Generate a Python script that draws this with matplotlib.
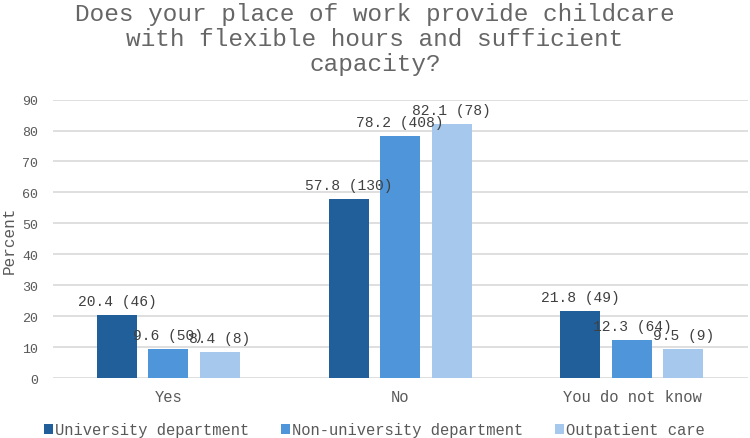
import matplotlib
matplotlib.use("Agg")
import matplotlib.pyplot as plt
import numpy as np

categories = ["Yes", "No", "You do not know"]
series_names = ["University department", "Non-university department", "Outpatient care"]
percent = [
    [20.4, 57.8, 21.8],
    [9.6, 78.2, 12.3],
    [8.4, 82.1, 9.5],
]
counts = [
    [46, 130, 49],
    [50, 408, 64],
    [8, 78, 9],
]
colors = ["#215f9a", "#4e95d9", "#a6c8ec"]
yticks = [0, 10, 20, 30, 40, 50, 60, 70, 80, 90]

plt.rcParams['font.family'] = ['Liberation Mono', 'DejaVu Sans Mono']
txt = "#595959"

fig = plt.figure(figsize=(7.5, 4.39), dpi=100)
ax = fig.add_axes([0.07, 0.136, 0.927, 0.635])

x = np.arange(len(categories))
width = 0.173
step = 0.222
for i, (name, vals, cnts, c) in enumerate(zip(series_names, percent, counts, colors)):
    pos = x + (i - 1) * step
    bars = ax.bar(pos, vals, width, color=c, label=name, zorder=3)
    for b, v, n in zip(bars, vals, cnts):
        ax.annotate(f"{v} ({n})", (b.get_x() + b.get_width() / 2, v),
                    xytext=(0, 5), textcoords="offset points",
                    ha="center", va="bottom", fontsize=10.5, color="#404040", zorder=4)

ax.set_xlim(-0.5, 2.5)
ax.set_ylim(0, 90)
ax.set_yticks(yticks)
ax.set_xticks(x)
ax.set_xticklabels(categories, fontsize=11.2, color=txt)
ax.tick_params(axis='y', labelsize=9.6, colors=txt, length=0, pad=10.5)
ax.tick_params(axis='x', length=0, pad=8)
ax.grid(axis='y', color="#d9d9d9", linewidth=1.2, zorder=0)
for s in ax.spines.values():
    s.set_visible(False)
ax.set_ylabel("Percent", fontsize=11.5, color=txt)
ax.yaxis.set_label_coords(-0.051, 0.5)

fig.suptitle("Does your place of work provide childcare\nwith flexible hours and sufficient\ncapacity?",
             x=0.5, y=0.993, fontsize=17.6, color="#666666", linespacing=1.12)

fig.legend(loc="lower center", bbox_to_anchor=(0.499, -0.03), ncol=3, frameon=False,
           fontsize=11.2, handlelength=0.6, handleheight=0.6, handletextpad=0.15,
           columnspacing=2.0, labelcolor=txt)

fig.savefig("out.png", dpi=100)
